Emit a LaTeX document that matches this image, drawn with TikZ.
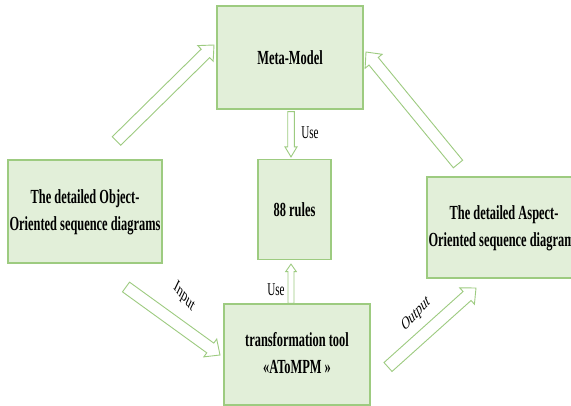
\documentclass[tikz,border=0pt]{standalone}
\usepackage{fontspec}
\usepackage{graphicx}
\setmainfont{Liberation Serif}
\usetikzlibrary{calc}

\definecolor{boxfill}{HTML}{E2EFD9}
\definecolor{boxline}{HTML}{9DCB80}

% condensed lettering used for every text
\newcommand{\narrow}[1]{\scalebox{0.62}[1]{#1}}

% hollow block arrow: #1 tail, #2 tip, #3 shaft half width, #4 head half width, #5 head length
\newcommand{\fatarrow}[5]{%
  \path ($(#2)!#5!(#1)$) coordinate (#1-#2-base);
  \draw[arrowline]
    ($(#1)!#3!90:(#2)$) -- ($(#1-#2-base)!#3!90:(#2)$) --
    ($(#1-#2-base)!#4!90:(#2)$) -- (#2) --
    ($(#1-#2-base)!#4!-90:(#2)$) -- ($(#1-#2-base)!#3!-90:(#2)$) --
    ($(#1)!#3!-90:(#2)$) -- cycle;
}

\begin{document}
\begin{tikzpicture}[x=1pt,y=-1pt,
  box/.style={draw=boxline, fill=boxfill, line width=1.2pt, inner sep=0pt,
    align=center, font=\bfseries\fontsize{20}{27}\selectfont},
  lbl/.style={inner sep=0pt, font=\fontsize{18}{20}\selectfont},
  arrowline/.style={draw=boxline, fill=white, line width=0.9pt, line join=miter}]

\path[use as bounding box, fill=white] (0,0) rectangle (571,406);
\clip (0,0) rectangle (571,406);

% boxes
\node[box, minimum width=146pt, minimum height=103pt] (meta) at (290,57.5)
  {\narrow{Meta-Model}};
\node[box, minimum width=73pt, minimum height=100pt] (rules) at (294.5,209.5)
  {\narrow{88 rules}};
\node[box, minimum width=154pt, minimum height=103pt] (oo) at (85,211.5)
  {\narrow{\begin{tabular}{@{}c@{}}The detailed Object-\\Oriented sequence diagrams\end{tabular}}};
\node[box, minimum width=154pt, minimum height=101pt] (ao) at (504,227.5)
  {\narrow{\begin{tabular}{@{}c@{}}The detailed Aspect-\\Oriented sequence diagrams\end{tabular}}};
\node[box, minimum width=146pt, minimum height=101pt] (tool) at (297,354.5)
  {\narrow{\begin{tabular}{@{}c@{}}transformation tool\\«AToMPM »\end{tabular}}};

% arrow end points
\coordinate (u1s) at ($(meta.south)+(1,2)$);
\coordinate (u1e) at ($(rules.north)+(-3.5,-2)$);
\coordinate (u2s) at ($(tool.north)+(-6,0)$);
\coordinate (u2e) at ($(rules.south)+(-3.5,4)$);
\coordinate (a1s) at (116.5,141);
\coordinate (a1e) at (214,45);
\coordinate (a2s) at (458,164);
\coordinate (a2e) at (366,52);
\coordinate (a3s) at (126,287);
\coordinate (a3e) at (220,355);
\coordinate (a4s) at (388,367);
\coordinate (a4e) at (476,288);

% block arrows
\fatarrow{u1s}{u1e}{3.3pt}{6pt}{10pt}
\fatarrow{u2s}{u2e}{3pt}{5.3pt}{7.5pt}
\fatarrow{a1s}{a1e}{6pt}{11pt}{12pt}
\fatarrow{a2s}{a2e}{6pt}{11pt}{12pt}
\fatarrow{a3s}{a3e}{6pt}{11pt}{12pt}
\fatarrow{a4s}{a4e}{6pt}{11pt}{12pt}

% arrow labels
\node[lbl] (use1) at (310,133) {\narrow{Use}};
\node[lbl] (use2) at (276,290) {\narrow{Use}};
\node[lbl] (inlbl) at (184,297) {\narrow{\rotatebox{-38}{Input}}};
\node[lbl] (outlbl) at (416,314) {\narrow{\rotatebox{34}{Output}}};
\end{tikzpicture}
\end{document}
